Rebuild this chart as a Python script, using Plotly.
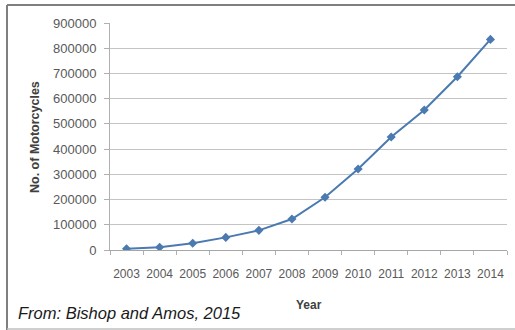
import plotly.graph_objects as go

years = ["2003", "2004", "2005", "2006", "2007", "2008", "2009", "2010", "2011", "2012", "2013", "2014"]
motorcycles = [5000, 11000, 27000, 50000, 78000, 123000, 209000, 321000, 448000, 555000, 687000, 835000]
y_ticks = [0, 100000, 200000, 300000, 400000, 500000, 600000, 700000, 800000, 900000]

W, H = 515, 330
L, R, T, B = 110, 8, 23, 80
pw, ph = W - L - R, H - T - B

def px(x):
    return (x - L) / pw

def py(y):
    return (H - B - y) / ph

fig = go.Figure()
fig.add_trace(go.Scatter(
    x=years, y=motorcycles, mode="lines+markers",
    line=dict(color="#4a7ab0", width=2),
    marker=dict(symbol="diamond", size=7, color="#4a7ab0"),
    showlegend=False,
))

fig.update_layout(
    width=W, height=H,
    margin=dict(l=L, r=R, t=T, b=B),
    paper_bgcolor="white", plot_bgcolor="white",
    font=dict(family="Liberation Sans", size=12, color="#595959"),
    xaxis=dict(type="category", range=[-0.5, 11.5], showgrid=False,
               showline=True, linecolor="#a6a6a6", linewidth=1,
               ticks="outside", ticklen=4, tickcolor="#b0b0b0", tickson="boundaries",
               tickangle=0, automargin=False, ticklabelstandoff=13,
               tickfont=dict(size=12, color="#595959"),
               fixedrange=True),
    yaxis=dict(range=[0, 900000], tickvals=y_ticks, ticktext=[str(v) for v in y_ticks],
               showgrid=True, gridcolor="#c4c4c4", gridwidth=1,
               showline=True, linecolor="#b0b0b0", linewidth=1,
               ticks="outside", ticklen=5, tickcolor="#b0b0b0", automargin=False,
               ticklabelstandoff=5,
               tickfont=dict(size=13, color="#595959"), zeroline=False, fixedrange=True),
)

fig.add_annotation(text="<b>No. of Motorcycles</b>", x=px(35), y=py(137), xref="paper", yref="paper",
                   textangle=-90, showarrow=False, font=dict(size=12.5, color="#404040"),
                   xanchor="center", yanchor="middle")
fig.add_annotation(text="<b>Year</b>", x=px(309), y=py(305), xref="paper", yref="paper",
                   showarrow=False, font=dict(size=12, color="#404040"),
                   xanchor="center", yanchor="middle")
fig.add_annotation(text="<i>From: Bishop and Amos, 2015</i>", x=px(16), y=py(313), xref="paper", yref="paper",
                   showarrow=False, font=dict(size=16.5, color="#1a1a1a"),
                   xanchor="left", yanchor="middle")

# outer frame lines
fig.add_shape(type="line", xref="paper", yref="paper", x0=px(7), x1=px(515), y0=py(5), y1=py(5),
              line=dict(color="#7f7f7f", width=2))
fig.add_shape(type="line", xref="paper", yref="paper", x0=px(7), x1=px(7), y0=py(5), y1=py(330),
              line=dict(color="#7f7f7f", width=2))
fig.add_shape(type="line", xref="paper", yref="paper", x0=px(7), x1=px(515), y0=py(329), y1=py(329),
              line=dict(color="#bfbfbf", width=1.5))

fig.write_html("out.html")
